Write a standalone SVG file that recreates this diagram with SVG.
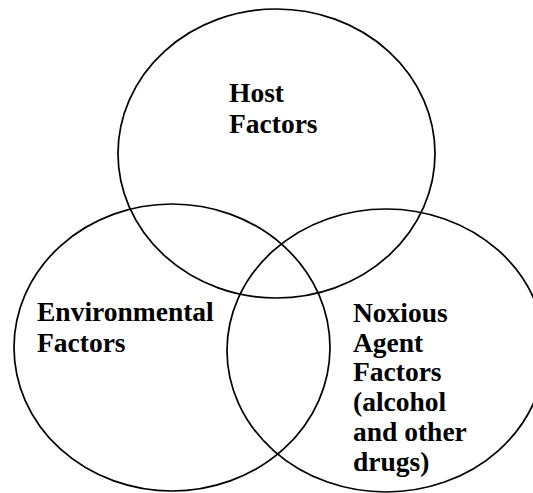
<svg xmlns="http://www.w3.org/2000/svg" width="533" height="493" viewBox="0 0 533 493">
  <style>
    .ring { fill: none; stroke: #000; stroke-width: 1.7; }
    .lbl { font-family: "Liberation Serif", "Times New Roman", serif; font-weight: bold; font-size: 27.5px; fill: #000; }
  </style>
  <rect width="533" height="493" fill="#fff"/>
  <g id="connectors"/>
  <g id="host">
    <ellipse class="ring" cx="276.5" cy="153.5" rx="158.5" ry="144.5"/>
    <text class="lbl"><tspan x="229" y="102">Host</tspan><tspan x="229" y="133">Factors</tspan></text>
  </g>
  <g id="environment">
    <ellipse class="ring" cx="172" cy="347.5" rx="158" ry="143.5"/>
    <text class="lbl"><tspan x="37" y="321">Environmental</tspan><tspan x="37" y="352">Factors</tspan></text>
  </g>
  <g id="agent">
    <ellipse class="ring" cx="386" cy="350.5" rx="159" ry="141.5"/>
    <text class="lbl"><tspan x="353" y="322">Noxious</tspan><tspan x="353" y="351.7">Agent</tspan><tspan x="353" y="381.4">Factors</tspan><tspan x="353" y="411.1">(alcohol</tspan><tspan x="353" y="440.8">and other</tspan><tspan x="353" y="470.5">drugs)</tspan></text>
  </g>
</svg>
